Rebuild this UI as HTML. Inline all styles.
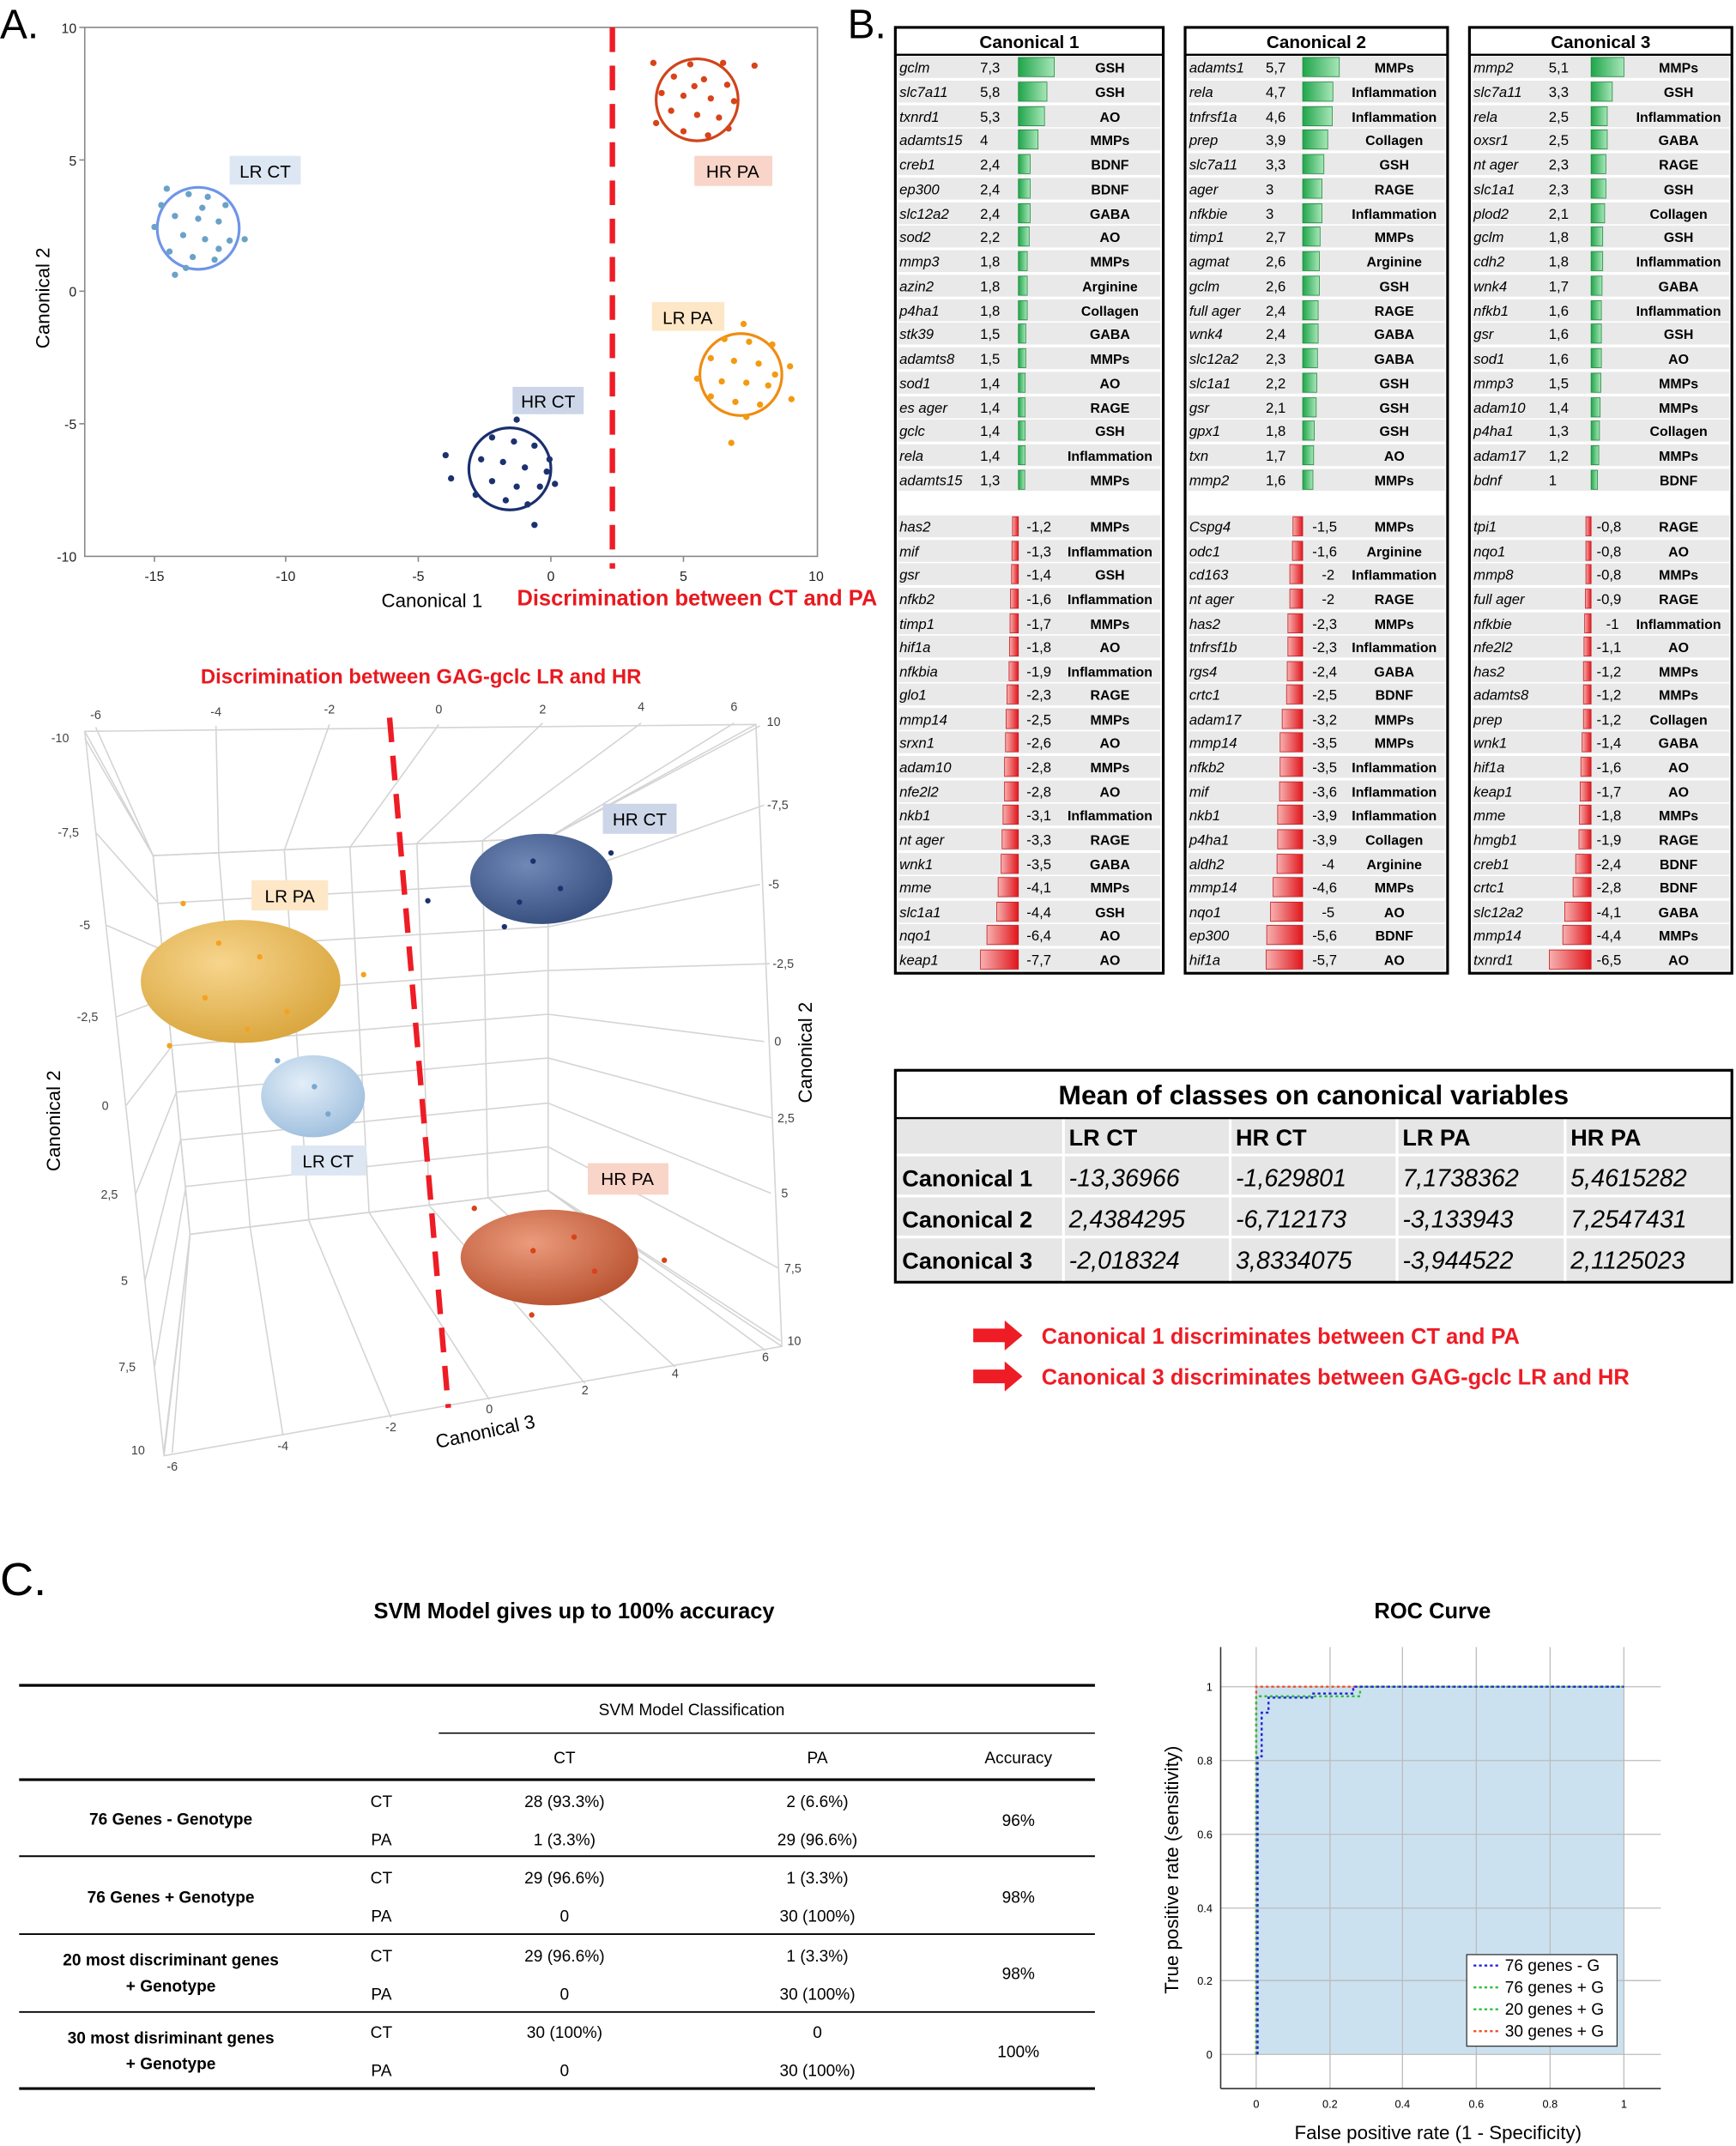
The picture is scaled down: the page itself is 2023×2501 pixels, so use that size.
<!DOCTYPE html>
<html><head><meta charset="utf-8">
<style>
html,body{margin:0;padding:0;background:#fff;}
svg{display:block;font-family:"Liberation Sans",sans-serif;}
.n{font-style:italic;font-size:10.5px;}
.v{font-size:10.5px;}
.c{font-size:10px;font-weight:bold;text-anchor:middle;}
.rb{fill:#e9e9e9;}
.g{fill:url(#gg);stroke:#1f8a3e;stroke-width:0.5;}
.r{fill:url(#rg);stroke:#c41d22;stroke-width:0.5;}
.tk{font-size:10px;fill:#222;}
.t3{font-size:9px;fill:#444;}
.grid{stroke:#d4d4d4;stroke-width:1;fill:none;}
</style></head><body>
<svg width="2023" height="2501" viewBox="0 0 1270 1570" xmlns="http://www.w3.org/2000/svg">
<defs>
<linearGradient id="gg" x1="0" x2="1"><stop offset="0" stop-color="#1fa54a"/><stop offset="1" stop-color="#a8e6b8"/></linearGradient>
<linearGradient id="rg" x1="1" x2="0"><stop offset="0" stop-color="#e0161c"/><stop offset="1" stop-color="#f7b0b0"/></linearGradient>
<radialGradient id="og" cx="0.4" cy="0.35" r="0.7"><stop offset="0" stop-color="#f7d58d"/><stop offset="1" stop-color="#d9a53c"/></radialGradient>
<radialGradient id="bg" cx="0.4" cy="0.35" r="0.7"><stop offset="0" stop-color="#6f88b6"/><stop offset="1" stop-color="#344d7d"/></radialGradient>
<radialGradient id="lb" cx="0.4" cy="0.35" r="0.7"><stop offset="0" stop-color="#e3eef8"/><stop offset="1" stop-color="#9dbedd"/></radialGradient>
<radialGradient id="rd" cx="0.4" cy="0.35" r="0.7"><stop offset="0" stop-color="#eb9b7c"/><stop offset="1" stop-color="#b8512f"/></radialGradient>
</defs>

<!-- PANEL A -->
<text x="0" y="28" font-size="30">A.</text>
<rect x="62" y="20" width="536" height="387" fill="none" stroke="#888" stroke-width="1"/>
<g class="tk" text-anchor="middle">
<text x="113" y="425">-15</text><text x="209" y="425">-10</text><text x="306" y="425">-5</text><text x="403" y="425">0</text><text x="500" y="425">5</text><text x="597" y="425">10</text>
</g>
<g class="tk" text-anchor="end">
<text x="56" y="24">10</text><text x="56" y="121">5</text><text x="56" y="217">0</text><text x="56" y="314">-5</text><text x="56" y="411">-10</text>
</g>
<g stroke="#888"><line x1="113" y1="407" x2="113" y2="411"/><line x1="209" y1="407" x2="209" y2="411"/><line x1="306" y1="407" x2="306" y2="411"/><line x1="403" y1="407" x2="403" y2="411"/><line x1="500" y1="407" x2="500" y2="411"/><line x1="58" y1="20" x2="62" y2="20"/><line x1="58" y1="117" x2="62" y2="117"/><line x1="58" y1="213" x2="62" y2="213"/><line x1="58" y1="310" x2="62" y2="310"/></g>
<text x="36" y="218" font-size="14" text-anchor="middle" transform="rotate(-90 36 218)">Canonical 2</text>
<text x="316" y="444" font-size="14" text-anchor="middle">Canonical 1</text>
<text x="510" y="443" font-size="16" font-weight="bold" fill="#e8191f" text-anchor="middle">Discrimination between CT and PA</text>
<line x1="448" y1="20" x2="448" y2="416" stroke="#ee1c25" stroke-width="4" stroke-dasharray="18,10"/>
<circle cx="145" cy="167" r="30" fill="none" stroke="#6f95e8" stroke-width="2"/>
<g fill="#6aa2c8"><circle cx="122" cy="138" r="2.3"/><circle cx="138" cy="142" r="2.3"/><circle cx="152" cy="144" r="2.3"/><circle cx="165" cy="150" r="2.3"/><circle cx="128" cy="158" r="2.3"/><circle cx="145" cy="160" r="2.3"/><circle cx="160" cy="162" r="2.3"/><circle cx="113" cy="166" r="2.3"/><circle cx="134" cy="172" r="2.3"/><circle cx="150" cy="175" r="2.3"/><circle cx="168" cy="176" r="2.3"/><circle cx="179" cy="175" r="2.3"/><circle cx="124" cy="184" r="2.3"/><circle cx="141" cy="188" r="2.3"/><circle cx="157" cy="190" r="2.3"/><circle cx="128" cy="201" r="2.3"/><circle cx="136" cy="196" r="2.3"/><circle cx="118" cy="150" r="2.3"/><circle cx="148" cy="152" r="2.3"/><circle cx="160" cy="182" r="2.3"/></g>
<circle cx="373" cy="343" r="30" fill="none" stroke="#1a2f6e" stroke-width="2"/>
<g fill="#1c3170"><circle cx="378" cy="307" r="2.3"/><circle cx="360" cy="320" r="2.3"/><circle cx="376" cy="323" r="2.3"/><circle cx="391" cy="326" r="2.3"/><circle cx="326" cy="333" r="2.3"/><circle cx="352" cy="336" r="2.3"/><circle cx="368" cy="338" r="2.3"/><circle cx="384" cy="342" r="2.3"/><circle cx="400" cy="345" r="2.3"/><circle cx="330" cy="350" r="2.3"/><circle cx="360" cy="352" r="2.3"/><circle cx="378" cy="356" r="2.3"/><circle cx="395" cy="356" r="2.3"/><circle cx="406" cy="354" r="2.3"/><circle cx="348" cy="362" r="2.3"/><circle cx="370" cy="366" r="2.3"/><circle cx="386" cy="369" r="2.3"/><circle cx="391" cy="384" r="2.3"/><circle cx="402" cy="336" r="2.3"/></g>
<circle cx="510" cy="73" r="30" fill="none" stroke="#d0441a" stroke-width="2"/>
<g fill="#d8431a"><circle cx="478" cy="46" r="2.3"/><circle cx="505" cy="47" r="2.3"/><circle cx="529" cy="46" r="2.3"/><circle cx="552" cy="48" r="2.3"/><circle cx="493" cy="56" r="2.3"/><circle cx="515" cy="58" r="2.3"/><circle cx="532" cy="62" r="2.3"/><circle cx="484" cy="68" r="2.3"/><circle cx="500" cy="70" r="2.3"/><circle cx="520" cy="72" r="2.3"/><circle cx="537" cy="74" r="2.3"/><circle cx="491" cy="81" r="2.3"/><circle cx="510" cy="84" r="2.3"/><circle cx="526" cy="86" r="2.3"/><circle cx="480" cy="90" r="2.3"/><circle cx="500" cy="96" r="2.3"/><circle cx="518" cy="99" r="2.3"/><circle cx="533" cy="94" r="2.3"/><circle cx="508" cy="63" r="2.3"/></g>
<circle cx="542" cy="274" r="30" fill="none" stroke="#f08c10" stroke-width="2"/>
<g fill="#f39a12"><circle cx="544" cy="237" r="2.3"/><circle cx="530" cy="248" r="2.3"/><circle cx="548" cy="250" r="2.3"/><circle cx="565" cy="252" r="2.3"/><circle cx="520" cy="262" r="2.3"/><circle cx="537" cy="264" r="2.3"/><circle cx="555" cy="266" r="2.3"/><circle cx="578" cy="268" r="2.3"/><circle cx="510" cy="277" r="2.3"/><circle cx="528" cy="279" r="2.3"/><circle cx="546" cy="280" r="2.3"/><circle cx="562" cy="282" r="2.3"/><circle cx="579" cy="292" r="2.3"/><circle cx="520" cy="290" r="2.3"/><circle cx="538" cy="294" r="2.3"/><circle cx="556" cy="296" r="2.3"/><circle cx="546" cy="305" r="2.3"/><circle cx="535" cy="324" r="2.3"/><circle cx="567" cy="274" r="2.3"/></g>
<rect x="168" y="114" width="52" height="21" fill="#dde7f3"/><text x="194" y="130" font-size="13" text-anchor="middle">LR CT</text>
<rect x="375" y="283" width="52" height="20" fill="#ccd6e8"/><text x="401" y="298" font-size="13" text-anchor="middle">HR CT</text>
<rect x="508" y="114" width="57" height="22" fill="#f9d4c8"/><text x="536" y="130" font-size="13" text-anchor="middle">HR PA</text>
<rect x="477" y="221" width="53" height="21" fill="#fde7c6"/><text x="503" y="237" font-size="13" text-anchor="middle">LR PA</text>

<!-- 3D plot -->
<text x="308" y="500" font-size="15" font-weight="bold" fill="#e8191f" text-anchor="middle">Discrimination between GAG-gclc LR and HR</text>
<g class="grid">
<path d="M62,535 L553,530 L572,985 L120,1065 Z"/>
<path d="M112,626 L401,613 L401,871 L139,903 Z"/>
<line x1="62" y1="535" x2="112" y2="626"/><line x1="553" y1="530" x2="401" y2="613"/><line x1="572" y1="985" x2="401" y2="871"/><line x1="120" y1="1065" x2="139" y2="903"/>
<!-- vertical grid: top tick -> back top -> back bottom -> bottom tick -->
<polyline points="70,532 112,626 139,903 126,1063"/>
<polyline points="158,531 160,624 183,898 207,1050"/>
<polyline points="241,530 208,622 226,893 286,1037"/>
<polyline points="321,530 256,620 270,887 358,1024"/>
<polyline points="397,529 305,617 314,882 428,1012"/>
<polyline points="469,529 353,615 357,876 494,1000"/>
<polyline points="537,529 401,613 401,871 560,988"/>
<!-- horizontal grid: left tick -> back left -> back right -> right tick -->
<polyline points="62,540 112,626 401,613 556,531"/>
<polyline points="70,609 116,661 401,645 559,589"/>
<polyline points="78,677 119,695 401,678 556,647"/>
<polyline points="85,744 122,730 401,710 563,705"/>
<polyline points="92,809 126,765 401,742 559,762"/>
<polyline points="99,874 129,799 401,774 565,818"/>
<polyline points="106,937 132,834 401,807 564,873"/>
<polyline points="113,1000 136,868 401,839 570,928"/>
<polyline points="120,1061 139,903 401,871 571,981"/>
</g>
<g class="t3" text-anchor="middle">
<text x="70" y="526">-6</text><text x="158" y="524">-4</text><text x="241" y="522">-2</text><text x="321" y="522">0</text><text x="397" y="522">2</text><text x="469" y="520">4</text><text x="537" y="520">6</text>
<text x="44" y="543">-10</text><text x="50" y="612">-7,5</text><text x="62" y="680">-5</text><text x="64" y="747">-2,5</text><text x="77" y="812">0</text><text x="80" y="877">2,5</text><text x="91" y="940">5</text><text x="93" y="1003">7,5</text><text x="101" y="1064">10</text>
<text x="566" y="531">10</text><text x="569" y="592">-7,5</text><text x="566" y="650">-5</text><text x="573" y="708">-2,5</text><text x="569" y="765">0</text><text x="575" y="821">2,5</text><text x="574" y="876">5</text><text x="580" y="931">7,5</text><text x="581" y="984">10</text>
<text x="126" y="1076">-6</text><text x="207" y="1061">-4</text><text x="286" y="1047">-2</text><text x="358" y="1034">0</text><text x="428" y="1020">2</text><text x="494" y="1008">4</text><text x="560" y="996">6</text>
</g>
<text x="44" y="820" font-size="14" text-anchor="middle" transform="rotate(-90 44 820)">Canonical 2</text>
<text x="594" y="770" font-size="14" text-anchor="middle" transform="rotate(-90 594 770)">Canonical 2</text>
<text x="356" y="1052" font-size="14" text-anchor="middle" transform="rotate(-12 356 1052)">Canonical 3</text>
<line x1="285" y1="525" x2="328" y2="1030" stroke="#ee1c25" stroke-width="4" stroke-dasharray="18,10"/>
<ellipse cx="176" cy="718" rx="73" ry="45" fill="url(#og)"/>
<ellipse cx="396" cy="643" rx="52" ry="33" fill="url(#bg)"/>
<ellipse cx="229" cy="802" rx="38" ry="30" fill="url(#lb)"/>
<ellipse cx="402" cy="920" rx="65" ry="35" fill="url(#rd)"/>
<g fill="#f3a320"><circle cx="134" cy="661" r="2"/><circle cx="266" cy="713" r="2"/><circle cx="124" cy="765" r="2"/><circle cx="160" cy="690" r="2"/><circle cx="190" cy="700" r="2"/><circle cx="150" cy="730" r="2"/><circle cx="210" cy="740" r="2"/><circle cx="181" cy="753" r="2"/></g>
<g fill="#1c3170"><circle cx="313" cy="659" r="2"/><circle cx="447" cy="624" r="2"/><circle cx="369" cy="678" r="2"/><circle cx="390" cy="630" r="2"/><circle cx="410" cy="650" r="2"/><circle cx="380" cy="660" r="2"/></g>
<g fill="#d8431a"><circle cx="347" cy="884" r="2"/><circle cx="486" cy="922" r="2"/><circle cx="389" cy="962" r="2"/><circle cx="390" cy="915" r="2"/><circle cx="420" cy="905" r="2"/><circle cx="435" cy="930" r="2"/></g>
<g fill="#7aa6d0"><circle cx="203" cy="776" r="2"/><circle cx="230" cy="795" r="2"/><circle cx="240" cy="815" r="2"/></g>
<rect x="184" y="644" width="56" height="22" fill="#fde7c6"/><text x="212" y="660" font-size="13" text-anchor="middle">LR PA</text>
<rect x="441" y="588" width="54" height="22" fill="#ccd6e8"/><text x="468" y="604" font-size="13" text-anchor="middle">HR CT</text>
<rect x="213" y="838" width="55" height="22" fill="#dde7f3"/><text x="240" y="854" font-size="13" text-anchor="middle">LR CT</text>
<rect x="430" y="851" width="59" height="23" fill="#f9d4c8"/><text x="459" y="867" font-size="13" text-anchor="middle">HR PA</text>

<!-- PANEL B -->
<text x="620" y="28" font-size="30">B.</text>
<!-- Table 1 -->
<g transform="translate(655,0)">
<rect x="0" y="20" width="196" height="692" fill="#fff" stroke="#000" stroke-width="2"/>
<line x1="0" y1="40" x2="196" y2="40" stroke="#000" stroke-width="1.5"/>
<text x="98" y="35" font-size="13" font-weight="bold" text-anchor="middle">Canonical 1</text>
<g transform="translate(0,49)"><rect class="rb" x="2" y="-8" width="192" height="16"/><text class="n" x="3" y="4">gclm</text><text class="v" x="62" y="4">7,3</text><rect class="g" x="90" y="-7" width="26.3" height="14"/><text class="c" x="157" y="4">GSH</text></g>
<g transform="translate(0,67)"><rect class="rb" x="2" y="-8" width="192" height="16"/><text class="n" x="3" y="4">slc7a11</text><text class="v" x="62" y="4">5,8</text><rect class="g" x="90" y="-7" width="20.9" height="14"/><text class="c" x="157" y="4">GSH</text></g>
<g transform="translate(0,85)"><rect class="rb" x="2" y="-8" width="192" height="16"/><text class="n" x="3" y="4">txnrd1</text><text class="v" x="62" y="4">5,3</text><rect class="g" x="90" y="-7" width="19.1" height="14"/><text class="c" x="157" y="4">AO</text></g>
<g transform="translate(0,102)"><rect class="rb" x="2" y="-8" width="192" height="16"/><text class="n" x="3" y="4">adamts15</text><text class="v" x="62" y="4">4</text><rect class="g" x="90" y="-7" width="14.4" height="14"/><text class="c" x="157" y="4">MMPs</text></g>
<g transform="translate(0,120)"><rect class="rb" x="2" y="-8" width="192" height="16"/><text class="n" x="3" y="4">creb1</text><text class="v" x="62" y="4">2,4</text><rect class="g" x="90" y="-7" width="8.6" height="14"/><text class="c" x="157" y="4">BDNF</text></g>
<g transform="translate(0,138)"><rect class="rb" x="2" y="-8" width="192" height="16"/><text class="n" x="3" y="4">ep300</text><text class="v" x="62" y="4">2,4</text><rect class="g" x="90" y="-7" width="8.6" height="14"/><text class="c" x="157" y="4">BDNF</text></g>
<g transform="translate(0,156)"><rect class="rb" x="2" y="-8" width="192" height="16"/><text class="n" x="3" y="4">slc12a2</text><text class="v" x="62" y="4">2,4</text><rect class="g" x="90" y="-7" width="8.6" height="14"/><text class="c" x="157" y="4">GABA</text></g>
<g transform="translate(0,173)"><rect class="rb" x="2" y="-8" width="192" height="16"/><text class="n" x="3" y="4">sod2</text><text class="v" x="62" y="4">2,2</text><rect class="g" x="90" y="-7" width="7.9" height="14"/><text class="c" x="157" y="4">AO</text></g>
<g transform="translate(0,191)"><rect class="rb" x="2" y="-8" width="192" height="16"/><text class="n" x="3" y="4">mmp3</text><text class="v" x="62" y="4">1,8</text><rect class="g" x="90" y="-7" width="6.5" height="14"/><text class="c" x="157" y="4">MMPs</text></g>
<g transform="translate(0,209)"><rect class="rb" x="2" y="-8" width="192" height="16"/><text class="n" x="3" y="4">azin2</text><text class="v" x="62" y="4">1,8</text><rect class="g" x="90" y="-7" width="6.5" height="14"/><text class="c" x="157" y="4">Arginine</text></g>
<g transform="translate(0,227)"><rect class="rb" x="2" y="-8" width="192" height="16"/><text class="n" x="3" y="4">p4ha1</text><text class="v" x="62" y="4">1,8</text><rect class="g" x="90" y="-7" width="6.5" height="14"/><text class="c" x="157" y="4">Collagen</text></g>
<g transform="translate(0,244)"><rect class="rb" x="2" y="-8" width="192" height="16"/><text class="n" x="3" y="4">stk39</text><text class="v" x="62" y="4">1,5</text><rect class="g" x="90" y="-7" width="5.4" height="14"/><text class="c" x="157" y="4">GABA</text></g>
<g transform="translate(0,262)"><rect class="rb" x="2" y="-8" width="192" height="16"/><text class="n" x="3" y="4">adamts8</text><text class="v" x="62" y="4">1,5</text><rect class="g" x="90" y="-7" width="5.4" height="14"/><text class="c" x="157" y="4">MMPs</text></g>
<g transform="translate(0,280)"><rect class="rb" x="2" y="-8" width="192" height="16"/><text class="n" x="3" y="4">sod1</text><text class="v" x="62" y="4">1,4</text><rect class="g" x="90" y="-7" width="5" height="14"/><text class="c" x="157" y="4">AO</text></g>
<g transform="translate(0,298)"><rect class="rb" x="2" y="-8" width="192" height="16"/><text class="n" x="3" y="4">es ager</text><text class="v" x="62" y="4">1,4</text><rect class="g" x="90" y="-7" width="5" height="14"/><text class="c" x="157" y="4">RAGE</text></g>
<g transform="translate(0,315)"><rect class="rb" x="2" y="-8" width="192" height="16"/><text class="n" x="3" y="4">gclc</text><text class="v" x="62" y="4">1,4</text><rect class="g" x="90" y="-7" width="5" height="14"/><text class="c" x="157" y="4">GSH</text></g>
<g transform="translate(0,333)"><rect class="rb" x="2" y="-8" width="192" height="16"/><text class="n" x="3" y="4">rela</text><text class="v" x="62" y="4">1,4</text><rect class="g" x="90" y="-7" width="5" height="14"/><text class="c" x="157" y="4">Inflammation</text></g>
<g transform="translate(0,351)"><rect class="rb" x="2" y="-8" width="192" height="16"/><text class="n" x="3" y="4">adamts15</text><text class="v" x="62" y="4">1,3</text><rect class="g" x="90" y="-7" width="4.7" height="14"/><text class="c" x="157" y="4">MMPs</text></g>
<g transform="translate(0,385)"><rect class="rb" x="2" y="-8" width="192" height="16"/><text class="n" x="3" y="4">has2</text><rect class="r" x="85.7" y="-7" width="4.3" height="14"/><text class="v" x="96" y="4">-1,2</text><text class="c" x="157" y="4">MMPs</text></g>
<g transform="translate(0,403)"><rect class="rb" x="2" y="-8" width="192" height="16"/><text class="n" x="3" y="4">mif</text><rect class="r" x="85.3" y="-7" width="4.7" height="14"/><text class="v" x="96" y="4">-1,3</text><text class="c" x="157" y="4">Inflammation</text></g>
<g transform="translate(0,420)"><rect class="rb" x="2" y="-8" width="192" height="16"/><text class="n" x="3" y="4">gsr</text><rect class="r" x="85" y="-7" width="5" height="14"/><text class="v" x="96" y="4">-1,4</text><text class="c" x="157" y="4">GSH</text></g>
<g transform="translate(0,438)"><rect class="rb" x="2" y="-8" width="192" height="16"/><text class="n" x="3" y="4">nfkb2</text><rect class="r" x="84.2" y="-7" width="5.8" height="14"/><text class="v" x="96" y="4">-1,6</text><text class="c" x="157" y="4">Inflammation</text></g>
<g transform="translate(0,456)"><rect class="rb" x="2" y="-8" width="192" height="16"/><text class="n" x="3" y="4">timp1</text><rect class="r" x="83.9" y="-7" width="6.1" height="14"/><text class="v" x="96" y="4">-1,7</text><text class="c" x="157" y="4">MMPs</text></g>
<g transform="translate(0,473)"><rect class="rb" x="2" y="-8" width="192" height="16"/><text class="n" x="3" y="4">hif1a</text><rect class="r" x="83.5" y="-7" width="6.5" height="14"/><text class="v" x="96" y="4">-1,8</text><text class="c" x="157" y="4">AO</text></g>
<g transform="translate(0,491)"><rect class="rb" x="2" y="-8" width="192" height="16"/><text class="n" x="3" y="4">nfkbia</text><rect class="r" x="83.2" y="-7" width="6.8" height="14"/><text class="v" x="96" y="4">-1,9</text><text class="c" x="157" y="4">Inflammation</text></g>
<g transform="translate(0,508)"><rect class="rb" x="2" y="-8" width="192" height="16"/><text class="n" x="3" y="4">glo1</text><rect class="r" x="81.7" y="-7" width="8.3" height="14"/><text class="v" x="96" y="4">-2,3</text><text class="c" x="157" y="4">RAGE</text></g>
<g transform="translate(0,526)"><rect class="rb" x="2" y="-8" width="192" height="16"/><text class="n" x="3" y="4">mmp14</text><rect class="r" x="81" y="-7" width="9" height="14"/><text class="v" x="96" y="4">-2,5</text><text class="c" x="157" y="4">MMPs</text></g>
<g transform="translate(0,543)"><rect class="rb" x="2" y="-8" width="192" height="16"/><text class="n" x="3" y="4">srxn1</text><rect class="r" x="80.6" y="-7" width="9.4" height="14"/><text class="v" x="96" y="4">-2,6</text><text class="c" x="157" y="4">AO</text></g>
<g transform="translate(0,561)"><rect class="rb" x="2" y="-8" width="192" height="16"/><text class="n" x="3" y="4">adam10</text><rect class="r" x="79.9" y="-7" width="10.1" height="14"/><text class="v" x="96" y="4">-2,8</text><text class="c" x="157" y="4">MMPs</text></g>
<g transform="translate(0,579)"><rect class="rb" x="2" y="-8" width="192" height="16"/><text class="n" x="3" y="4">nfe2l2</text><rect class="r" x="79.9" y="-7" width="10.1" height="14"/><text class="v" x="96" y="4">-2,8</text><text class="c" x="157" y="4">AO</text></g>
<g transform="translate(0,596)"><rect class="rb" x="2" y="-8" width="192" height="16"/><text class="n" x="3" y="4">nkb1</text><rect class="r" x="78.8" y="-7" width="11.2" height="14"/><text class="v" x="96" y="4">-3,1</text><text class="c" x="157" y="4">Inflammation</text></g>
<g transform="translate(0,614)"><rect class="rb" x="2" y="-8" width="192" height="16"/><text class="n" x="3" y="4">nt ager</text><rect class="r" x="78.1" y="-7" width="11.9" height="14"/><text class="v" x="96" y="4">-3,3</text><text class="c" x="157" y="4">RAGE</text></g>
<g transform="translate(0,632)"><rect class="rb" x="2" y="-8" width="192" height="16"/><text class="n" x="3" y="4">wnk1</text><rect class="r" x="77.4" y="-7" width="12.6" height="14"/><text class="v" x="96" y="4">-3,5</text><text class="c" x="157" y="4">GABA</text></g>
<g transform="translate(0,649)"><rect class="rb" x="2" y="-8" width="192" height="16"/><text class="n" x="3" y="4">mme</text><rect class="r" x="75.2" y="-7" width="14.8" height="14"/><text class="v" x="96" y="4">-4,1</text><text class="c" x="157" y="4">MMPs</text></g>
<g transform="translate(0,667)"><rect class="rb" x="2" y="-8" width="192" height="16"/><text class="n" x="3" y="4">slc1a1</text><rect class="r" x="74.2" y="-7" width="15.8" height="14"/><text class="v" x="96" y="4">-4,4</text><text class="c" x="157" y="4">GSH</text></g>
<g transform="translate(0,684)"><rect class="rb" x="2" y="-8" width="192" height="16"/><text class="n" x="3" y="4">nqo1</text><rect class="r" x="67" y="-7" width="23" height="14"/><text class="v" x="96" y="4">-6,4</text><text class="c" x="157" y="4">AO</text></g>
<g transform="translate(0,702)"><rect class="rb" x="2" y="-8" width="192" height="16"/><text class="n" x="3" y="4">keap1</text><rect class="r" x="62.3" y="-7" width="27.7" height="14"/><text class="v" x="96" y="4">-7,7</text><text class="c" x="157" y="4">AO</text></g>
</g>

<!-- Table 2 -->
<g transform="translate(867,0)">
<rect x="0" y="20" width="192" height="692" fill="#fff" stroke="#000" stroke-width="2"/>
<line x1="0" y1="40" x2="192" y2="40" stroke="#000" stroke-width="1.5"/>
<text x="96" y="35" font-size="13" font-weight="bold" text-anchor="middle">Canonical 2</text>
<g transform="translate(0,49)"><rect class="rb" x="2" y="-8" width="188" height="16"/><text class="n" x="3" y="4">adamts1</text><text class="v" x="59" y="4">5,7</text><rect class="g" x="86" y="-7" width="26.8" height="14"/><text class="c" x="153" y="4">MMPs</text></g>
<g transform="translate(0,67)"><rect class="rb" x="2" y="-8" width="188" height="16"/><text class="n" x="3" y="4">rela</text><text class="v" x="59" y="4">4,7</text><rect class="g" x="86" y="-7" width="22.1" height="14"/><text class="c" x="153" y="4">Inflammation</text></g>
<g transform="translate(0,85)"><rect class="rb" x="2" y="-8" width="188" height="16"/><text class="n" x="3" y="4">tnfrsf1a</text><text class="v" x="59" y="4">4,6</text><rect class="g" x="86" y="-7" width="21.6" height="14"/><text class="c" x="153" y="4">Inflammation</text></g>
<g transform="translate(0,102)"><rect class="rb" x="2" y="-8" width="188" height="16"/><text class="n" x="3" y="4">prep</text><text class="v" x="59" y="4">3,9</text><rect class="g" x="86" y="-7" width="18.3" height="14"/><text class="c" x="153" y="4">Collagen</text></g>
<g transform="translate(0,120)"><rect class="rb" x="2" y="-8" width="188" height="16"/><text class="n" x="3" y="4">slc7a11</text><text class="v" x="59" y="4">3,3</text><rect class="g" x="86" y="-7" width="15.5" height="14"/><text class="c" x="153" y="4">GSH</text></g>
<g transform="translate(0,138)"><rect class="rb" x="2" y="-8" width="188" height="16"/><text class="n" x="3" y="4">ager</text><text class="v" x="59" y="4">3</text><rect class="g" x="86" y="-7" width="14.1" height="14"/><text class="c" x="153" y="4">RAGE</text></g>
<g transform="translate(0,156)"><rect class="rb" x="2" y="-8" width="188" height="16"/><text class="n" x="3" y="4">nfkbie</text><text class="v" x="59" y="4">3</text><rect class="g" x="86" y="-7" width="14.1" height="14"/><text class="c" x="153" y="4">Inflammation</text></g>
<g transform="translate(0,173)"><rect class="rb" x="2" y="-8" width="188" height="16"/><text class="n" x="3" y="4">timp1</text><text class="v" x="59" y="4">2,7</text><rect class="g" x="86" y="-7" width="12.7" height="14"/><text class="c" x="153" y="4">MMPs</text></g>
<g transform="translate(0,191)"><rect class="rb" x="2" y="-8" width="188" height="16"/><text class="n" x="3" y="4">agmat</text><text class="v" x="59" y="4">2,6</text><rect class="g" x="86" y="-7" width="12.2" height="14"/><text class="c" x="153" y="4">Arginine</text></g>
<g transform="translate(0,209)"><rect class="rb" x="2" y="-8" width="188" height="16"/><text class="n" x="3" y="4">gclm</text><text class="v" x="59" y="4">2,6</text><rect class="g" x="86" y="-7" width="12.2" height="14"/><text class="c" x="153" y="4">GSH</text></g>
<g transform="translate(0,227)"><rect class="rb" x="2" y="-8" width="188" height="16"/><text class="n" x="3" y="4">full ager</text><text class="v" x="59" y="4">2,4</text><rect class="g" x="86" y="-7" width="11.3" height="14"/><text class="c" x="153" y="4">RAGE</text></g>
<g transform="translate(0,244)"><rect class="rb" x="2" y="-8" width="188" height="16"/><text class="n" x="3" y="4">wnk4</text><text class="v" x="59" y="4">2,4</text><rect class="g" x="86" y="-7" width="11.3" height="14"/><text class="c" x="153" y="4">GABA</text></g>
<g transform="translate(0,262)"><rect class="rb" x="2" y="-8" width="188" height="16"/><text class="n" x="3" y="4">slc12a2</text><text class="v" x="59" y="4">2,3</text><rect class="g" x="86" y="-7" width="10.8" height="14"/><text class="c" x="153" y="4">GABA</text></g>
<g transform="translate(0,280)"><rect class="rb" x="2" y="-8" width="188" height="16"/><text class="n" x="3" y="4">slc1a1</text><text class="v" x="59" y="4">2,2</text><rect class="g" x="86" y="-7" width="10.3" height="14"/><text class="c" x="153" y="4">GSH</text></g>
<g transform="translate(0,298)"><rect class="rb" x="2" y="-8" width="188" height="16"/><text class="n" x="3" y="4">gsr</text><text class="v" x="59" y="4">2,1</text><rect class="g" x="86" y="-7" width="9.9" height="14"/><text class="c" x="153" y="4">GSH</text></g>
<g transform="translate(0,315)"><rect class="rb" x="2" y="-8" width="188" height="16"/><text class="n" x="3" y="4">gpx1</text><text class="v" x="59" y="4">1,8</text><rect class="g" x="86" y="-7" width="8.5" height="14"/><text class="c" x="153" y="4">GSH</text></g>
<g transform="translate(0,333)"><rect class="rb" x="2" y="-8" width="188" height="16"/><text class="n" x="3" y="4">txn</text><text class="v" x="59" y="4">1,7</text><rect class="g" x="86" y="-7" width="8" height="14"/><text class="c" x="153" y="4">AO</text></g>
<g transform="translate(0,351)"><rect class="rb" x="2" y="-8" width="188" height="16"/><text class="n" x="3" y="4">mmp2</text><text class="v" x="59" y="4">1,6</text><rect class="g" x="86" y="-7" width="7.5" height="14"/><text class="c" x="153" y="4">MMPs</text></g>
<g transform="translate(0,385)"><rect class="rb" x="2" y="-8" width="188" height="16"/><text class="n" x="3" y="4">Cspg4</text><rect class="r" x="78.9" y="-7" width="7.1" height="14"/><text class="v" x="93" y="4">-1,5</text><text class="c" x="153" y="4">MMPs</text></g>
<g transform="translate(0,403)"><rect class="rb" x="2" y="-8" width="188" height="16"/><text class="n" x="3" y="4">odc1</text><rect class="r" x="78.5" y="-7" width="7.5" height="14"/><text class="v" x="93" y="4">-1,6</text><text class="c" x="153" y="4">Arginine</text></g>
<g transform="translate(0,420)"><rect class="rb" x="2" y="-8" width="188" height="16"/><text class="n" x="3" y="4">cd163</text><rect class="r" x="76.6" y="-7" width="9.4" height="14"/><text class="v" x="100" y="4">-2</text><text class="c" x="153" y="4">Inflammation</text></g>
<g transform="translate(0,438)"><rect class="rb" x="2" y="-8" width="188" height="16"/><text class="n" x="3" y="4">nt ager</text><rect class="r" x="76.6" y="-7" width="9.4" height="14"/><text class="v" x="100" y="4">-2</text><text class="c" x="153" y="4">RAGE</text></g>
<g transform="translate(0,456)"><rect class="rb" x="2" y="-8" width="188" height="16"/><text class="n" x="3" y="4">has2</text><rect class="r" x="75.2" y="-7" width="10.8" height="14"/><text class="v" x="93" y="4">-2,3</text><text class="c" x="153" y="4">MMPs</text></g>
<g transform="translate(0,473)"><rect class="rb" x="2" y="-8" width="188" height="16"/><text class="n" x="3" y="4">tnfrsf1b</text><rect class="r" x="75.2" y="-7" width="10.8" height="14"/><text class="v" x="93" y="4">-2,3</text><text class="c" x="153" y="4">Inflammation</text></g>
<g transform="translate(0,491)"><rect class="rb" x="2" y="-8" width="188" height="16"/><text class="n" x="3" y="4">rgs4</text><rect class="r" x="74.7" y="-7" width="11.3" height="14"/><text class="v" x="93" y="4">-2,4</text><text class="c" x="153" y="4">GABA</text></g>
<g transform="translate(0,508)"><rect class="rb" x="2" y="-8" width="188" height="16"/><text class="n" x="3" y="4">crtc1</text><rect class="r" x="74.2" y="-7" width="11.8" height="14"/><text class="v" x="93" y="4">-2,5</text><text class="c" x="153" y="4">BDNF</text></g>
<g transform="translate(0,526)"><rect class="rb" x="2" y="-8" width="188" height="16"/><text class="n" x="3" y="4">adam17</text><rect class="r" x="71" y="-7" width="15" height="14"/><text class="v" x="93" y="4">-3,2</text><text class="c" x="153" y="4">MMPs</text></g>
<g transform="translate(0,543)"><rect class="rb" x="2" y="-8" width="188" height="16"/><text class="n" x="3" y="4">mmp14</text><rect class="r" x="69.5" y="-7" width="16.5" height="14"/><text class="v" x="93" y="4">-3,5</text><text class="c" x="153" y="4">MMPs</text></g>
<g transform="translate(0,561)"><rect class="rb" x="2" y="-8" width="188" height="16"/><text class="n" x="3" y="4">nfkb2</text><rect class="r" x="69.5" y="-7" width="16.5" height="14"/><text class="v" x="93" y="4">-3,5</text><text class="c" x="153" y="4">Inflammation</text></g>
<g transform="translate(0,579)"><rect class="rb" x="2" y="-8" width="188" height="16"/><text class="n" x="3" y="4">mif</text><rect class="r" x="69.1" y="-7" width="16.9" height="14"/><text class="v" x="93" y="4">-3,6</text><text class="c" x="153" y="4">Inflammation</text></g>
<g transform="translate(0,596)"><rect class="rb" x="2" y="-8" width="188" height="16"/><text class="n" x="3" y="4">nkb1</text><rect class="r" x="67.7" y="-7" width="18.3" height="14"/><text class="v" x="93" y="4">-3,9</text><text class="c" x="153" y="4">Inflammation</text></g>
<g transform="translate(0,614)"><rect class="rb" x="2" y="-8" width="188" height="16"/><text class="n" x="3" y="4">p4ha1</text><rect class="r" x="67.7" y="-7" width="18.3" height="14"/><text class="v" x="93" y="4">-3,9</text><text class="c" x="153" y="4">Collagen</text></g>
<g transform="translate(0,632)"><rect class="rb" x="2" y="-8" width="188" height="16"/><text class="n" x="3" y="4">aldh2</text><rect class="r" x="67.2" y="-7" width="18.8" height="14"/><text class="v" x="100" y="4">-4</text><text class="c" x="153" y="4">Arginine</text></g>
<g transform="translate(0,649)"><rect class="rb" x="2" y="-8" width="188" height="16"/><text class="n" x="3" y="4">mmp14</text><rect class="r" x="64.4" y="-7" width="21.6" height="14"/><text class="v" x="93" y="4">-4,6</text><text class="c" x="153" y="4">MMPs</text></g>
<g transform="translate(0,667)"><rect class="rb" x="2" y="-8" width="188" height="16"/><text class="n" x="3" y="4">nqo1</text><rect class="r" x="62.5" y="-7" width="23.5" height="14"/><text class="v" x="100" y="4">-5</text><text class="c" x="153" y="4">AO</text></g>
<g transform="translate(0,684)"><rect class="rb" x="2" y="-8" width="188" height="16"/><text class="n" x="3" y="4">ep300</text><rect class="r" x="59.7" y="-7" width="26.3" height="14"/><text class="v" x="93" y="4">-5,6</text><text class="c" x="153" y="4">BDNF</text></g>
<g transform="translate(0,702)"><rect class="rb" x="2" y="-8" width="188" height="16"/><text class="n" x="3" y="4">hif1a</text><rect class="r" x="59.2" y="-7" width="26.8" height="14"/><text class="v" x="93" y="4">-5,7</text><text class="c" x="153" y="4">AO</text></g>
</g>

<!-- Table 3 -->
<g transform="translate(1075,0)">
<rect x="0" y="20" width="192" height="692" fill="#fff" stroke="#000" stroke-width="2"/>
<line x1="0" y1="40" x2="192" y2="40" stroke="#000" stroke-width="1.5"/>
<text x="96" y="35" font-size="13" font-weight="bold" text-anchor="middle">Canonical 3</text>
<g transform="translate(0,49)"><rect class="rb" x="2" y="-8" width="188" height="16"/><text class="n" x="3" y="4">mmp2</text><text class="v" x="58" y="4">5,1</text><rect class="g" x="89" y="-7" width="24" height="14"/><text class="c" x="153" y="4">MMPs</text></g>
<g transform="translate(0,67)"><rect class="rb" x="2" y="-8" width="188" height="16"/><text class="n" x="3" y="4">slc7a11</text><text class="v" x="58" y="4">3,3</text><rect class="g" x="89" y="-7" width="15.5" height="14"/><text class="c" x="153" y="4">GSH</text></g>
<g transform="translate(0,85)"><rect class="rb" x="2" y="-8" width="188" height="16"/><text class="n" x="3" y="4">rela</text><text class="v" x="58" y="4">2,5</text><rect class="g" x="89" y="-7" width="11.8" height="14"/><text class="c" x="153" y="4">Inflammation</text></g>
<g transform="translate(0,102)"><rect class="rb" x="2" y="-8" width="188" height="16"/><text class="n" x="3" y="4">oxsr1</text><text class="v" x="58" y="4">2,5</text><rect class="g" x="89" y="-7" width="11.8" height="14"/><text class="c" x="153" y="4">GABA</text></g>
<g transform="translate(0,120)"><rect class="rb" x="2" y="-8" width="188" height="16"/><text class="n" x="3" y="4">nt ager</text><text class="v" x="58" y="4">2,3</text><rect class="g" x="89" y="-7" width="10.8" height="14"/><text class="c" x="153" y="4">RAGE</text></g>
<g transform="translate(0,138)"><rect class="rb" x="2" y="-8" width="188" height="16"/><text class="n" x="3" y="4">slc1a1</text><text class="v" x="58" y="4">2,3</text><rect class="g" x="89" y="-7" width="10.8" height="14"/><text class="c" x="153" y="4">GSH</text></g>
<g transform="translate(0,156)"><rect class="rb" x="2" y="-8" width="188" height="16"/><text class="n" x="3" y="4">plod2</text><text class="v" x="58" y="4">2,1</text><rect class="g" x="89" y="-7" width="9.9" height="14"/><text class="c" x="153" y="4">Collagen</text></g>
<g transform="translate(0,173)"><rect class="rb" x="2" y="-8" width="188" height="16"/><text class="n" x="3" y="4">gclm</text><text class="v" x="58" y="4">1,8</text><rect class="g" x="89" y="-7" width="8.5" height="14"/><text class="c" x="153" y="4">GSH</text></g>
<g transform="translate(0,191)"><rect class="rb" x="2" y="-8" width="188" height="16"/><text class="n" x="3" y="4">cdh2</text><text class="v" x="58" y="4">1,8</text><rect class="g" x="89" y="-7" width="8.5" height="14"/><text class="c" x="153" y="4">Inflammation</text></g>
<g transform="translate(0,209)"><rect class="rb" x="2" y="-8" width="188" height="16"/><text class="n" x="3" y="4">wnk4</text><text class="v" x="58" y="4">1,7</text><rect class="g" x="89" y="-7" width="8" height="14"/><text class="c" x="153" y="4">GABA</text></g>
<g transform="translate(0,227)"><rect class="rb" x="2" y="-8" width="188" height="16"/><text class="n" x="3" y="4">nfkb1</text><text class="v" x="58" y="4">1,6</text><rect class="g" x="89" y="-7" width="7.5" height="14"/><text class="c" x="153" y="4">Inflammation</text></g>
<g transform="translate(0,244)"><rect class="rb" x="2" y="-8" width="188" height="16"/><text class="n" x="3" y="4">gsr</text><text class="v" x="58" y="4">1,6</text><rect class="g" x="89" y="-7" width="7.5" height="14"/><text class="c" x="153" y="4">GSH</text></g>
<g transform="translate(0,262)"><rect class="rb" x="2" y="-8" width="188" height="16"/><text class="n" x="3" y="4">sod1</text><text class="v" x="58" y="4">1,6</text><rect class="g" x="89" y="-7" width="7.5" height="14"/><text class="c" x="153" y="4">AO</text></g>
<g transform="translate(0,280)"><rect class="rb" x="2" y="-8" width="188" height="16"/><text class="n" x="3" y="4">mmp3</text><text class="v" x="58" y="4">1,5</text><rect class="g" x="89" y="-7" width="7.1" height="14"/><text class="c" x="153" y="4">MMPs</text></g>
<g transform="translate(0,298)"><rect class="rb" x="2" y="-8" width="188" height="16"/><text class="n" x="3" y="4">adam10</text><text class="v" x="58" y="4">1,4</text><rect class="g" x="89" y="-7" width="6.6" height="14"/><text class="c" x="153" y="4">MMPs</text></g>
<g transform="translate(0,315)"><rect class="rb" x="2" y="-8" width="188" height="16"/><text class="n" x="3" y="4">p4ha1</text><text class="v" x="58" y="4">1,3</text><rect class="g" x="89" y="-7" width="6.1" height="14"/><text class="c" x="153" y="4">Collagen</text></g>
<g transform="translate(0,333)"><rect class="rb" x="2" y="-8" width="188" height="16"/><text class="n" x="3" y="4">adam17</text><text class="v" x="58" y="4">1,2</text><rect class="g" x="89" y="-7" width="5.6" height="14"/><text class="c" x="153" y="4">MMPs</text></g>
<g transform="translate(0,351)"><rect class="rb" x="2" y="-8" width="188" height="16"/><text class="n" x="3" y="4">bdnf</text><text class="v" x="58" y="4">1</text><rect class="g" x="89" y="-7" width="4.7" height="14"/><text class="c" x="153" y="4">BDNF</text></g>
<g transform="translate(0,385)"><rect class="rb" x="2" y="-8" width="188" height="16"/><text class="n" x="3" y="4">tpi1</text><rect class="r" x="85.2" y="-7" width="3.8" height="14"/><text class="v" x="93" y="4">-0,8</text><text class="c" x="153" y="4">RAGE</text></g>
<g transform="translate(0,403)"><rect class="rb" x="2" y="-8" width="188" height="16"/><text class="n" x="3" y="4">nqo1</text><rect class="r" x="85.2" y="-7" width="3.8" height="14"/><text class="v" x="93" y="4">-0,8</text><text class="c" x="153" y="4">AO</text></g>
<g transform="translate(0,420)"><rect class="rb" x="2" y="-8" width="188" height="16"/><text class="n" x="3" y="4">mmp8</text><rect class="r" x="85.2" y="-7" width="3.8" height="14"/><text class="v" x="93" y="4">-0,8</text><text class="c" x="153" y="4">MMPs</text></g>
<g transform="translate(0,438)"><rect class="rb" x="2" y="-8" width="188" height="16"/><text class="n" x="3" y="4">full ager</text><rect class="r" x="84.8" y="-7" width="4.2" height="14"/><text class="v" x="93" y="4">-0,9</text><text class="c" x="153" y="4">RAGE</text></g>
<g transform="translate(0,456)"><rect class="rb" x="2" y="-8" width="188" height="16"/><text class="n" x="3" y="4">nfkbie</text><rect class="r" x="84.3" y="-7" width="4.7" height="14"/><text class="v" x="100" y="4">-1</text><text class="c" x="153" y="4">Inflammation</text></g>
<g transform="translate(0,473)"><rect class="rb" x="2" y="-8" width="188" height="16"/><text class="n" x="3" y="4">nfe2l2</text><rect class="r" x="83.8" y="-7" width="5.2" height="14"/><text class="v" x="93" y="4">-1,1</text><text class="c" x="153" y="4">AO</text></g>
<g transform="translate(0,491)"><rect class="rb" x="2" y="-8" width="188" height="16"/><text class="n" x="3" y="4">has2</text><rect class="r" x="83.4" y="-7" width="5.6" height="14"/><text class="v" x="93" y="4">-1,2</text><text class="c" x="153" y="4">MMPs</text></g>
<g transform="translate(0,508)"><rect class="rb" x="2" y="-8" width="188" height="16"/><text class="n" x="3" y="4">adamts8</text><rect class="r" x="83.4" y="-7" width="5.6" height="14"/><text class="v" x="93" y="4">-1,2</text><text class="c" x="153" y="4">MMPs</text></g>
<g transform="translate(0,526)"><rect class="rb" x="2" y="-8" width="188" height="16"/><text class="n" x="3" y="4">prep</text><rect class="r" x="83.4" y="-7" width="5.6" height="14"/><text class="v" x="93" y="4">-1,2</text><text class="c" x="153" y="4">Collagen</text></g>
<g transform="translate(0,543)"><rect class="rb" x="2" y="-8" width="188" height="16"/><text class="n" x="3" y="4">wnk1</text><rect class="r" x="82.4" y="-7" width="6.6" height="14"/><text class="v" x="93" y="4">-1,4</text><text class="c" x="153" y="4">GABA</text></g>
<g transform="translate(0,561)"><rect class="rb" x="2" y="-8" width="188" height="16"/><text class="n" x="3" y="4">hif1a</text><rect class="r" x="81.5" y="-7" width="7.5" height="14"/><text class="v" x="93" y="4">-1,6</text><text class="c" x="153" y="4">AO</text></g>
<g transform="translate(0,579)"><rect class="rb" x="2" y="-8" width="188" height="16"/><text class="n" x="3" y="4">keap1</text><rect class="r" x="81" y="-7" width="8" height="14"/><text class="v" x="93" y="4">-1,7</text><text class="c" x="153" y="4">AO</text></g>
<g transform="translate(0,596)"><rect class="rb" x="2" y="-8" width="188" height="16"/><text class="n" x="3" y="4">mme</text><rect class="r" x="80.5" y="-7" width="8.5" height="14"/><text class="v" x="93" y="4">-1,8</text><text class="c" x="153" y="4">MMPs</text></g>
<g transform="translate(0,614)"><rect class="rb" x="2" y="-8" width="188" height="16"/><text class="n" x="3" y="4">hmgb1</text><rect class="r" x="80.1" y="-7" width="8.9" height="14"/><text class="v" x="93" y="4">-1,9</text><text class="c" x="153" y="4">RAGE</text></g>
<g transform="translate(0,632)"><rect class="rb" x="2" y="-8" width="188" height="16"/><text class="n" x="3" y="4">creb1</text><rect class="r" x="77.7" y="-7" width="11.3" height="14"/><text class="v" x="93" y="4">-2,4</text><text class="c" x="153" y="4">BDNF</text></g>
<g transform="translate(0,649)"><rect class="rb" x="2" y="-8" width="188" height="16"/><text class="n" x="3" y="4">crtc1</text><rect class="r" x="75.8" y="-7" width="13.2" height="14"/><text class="v" x="93" y="4">-2,8</text><text class="c" x="153" y="4">BDNF</text></g>
<g transform="translate(0,667)"><rect class="rb" x="2" y="-8" width="188" height="16"/><text class="n" x="3" y="4">slc12a2</text><rect class="r" x="69.7" y="-7" width="19.3" height="14"/><text class="v" x="93" y="4">-4,1</text><text class="c" x="153" y="4">GABA</text></g>
<g transform="translate(0,684)"><rect class="rb" x="2" y="-8" width="188" height="16"/><text class="n" x="3" y="4">mmp14</text><rect class="r" x="68.3" y="-7" width="20.7" height="14"/><text class="v" x="93" y="4">-4,4</text><text class="c" x="153" y="4">MMPs</text></g>
<g transform="translate(0,702)"><rect class="rb" x="2" y="-8" width="188" height="16"/><text class="n" x="3" y="4">txnrd1</text><rect class="r" x="58.4" y="-7" width="30.6" height="14"/><text class="v" x="93" y="4">-6,5</text><text class="c" x="153" y="4">AO</text></g>
</g>

<!-- Mean table -->
<g>
<rect x="655" y="783" width="612" height="155" fill="#fff" stroke="#000" stroke-width="2"/>
<rect x="656" y="818" width="610" height="119" fill="#e6e6e6"/>
<g stroke="#fff" stroke-width="2"><line x1="778" y1="818" x2="778" y2="937"/><line x1="900" y1="818" x2="900" y2="937"/><line x1="1022" y1="818" x2="1022" y2="937"/><line x1="1145" y1="818" x2="1145" y2="937"/><line x1="656" y1="845" x2="1266" y2="845"/><line x1="656" y1="875" x2="1266" y2="875"/><line x1="656" y1="905" x2="1266" y2="905"/></g>
<line x1="655" y1="818" x2="1267" y2="818" stroke="#000" stroke-width="1.5"/>
<text x="961" y="808" font-size="20" font-weight="bold" text-anchor="middle">Mean of classes on canonical variables</text>
<g font-size="17" font-weight="bold"><text x="782" y="838">LR CT</text><text x="904" y="838">HR CT</text><text x="1026" y="838">LR  PA</text><text x="1149" y="838">HR PA</text>
<text x="660" y="868">Canonical 1</text><text x="660" y="898">Canonical 2</text><text x="660" y="928">Canonical 3</text></g>
<g font-size="18" font-style="italic">
<text x="782" y="868">-13,36966</text><text x="904" y="868">-1,629801</text><text x="1026" y="868">7,1738362</text><text x="1149" y="868">5,4615282</text>
<text x="782" y="898">2,4384295</text><text x="904" y="898">-6,712173</text><text x="1026" y="898">-3,133943</text><text x="1149" y="898">7,2547431</text>
<text x="782" y="928">-2,018324</text><text x="904" y="928">3,8334075</text><text x="1026" y="928">-3,944522</text><text x="1149" y="928">2,1125023</text>
</g>
</g>
<g fill="#ee1c25">
<polygon points="712,972 735,972 735,966 748,977 735,988 735,982 712,982"/>
<polygon points="712,1002 735,1002 735,996 748,1007 735,1018 735,1012 712,1012"/>
<text x="762" y="983" font-size="16" font-weight="bold">Canonical 1 discriminates between CT and PA</text>
<text x="762" y="1013" font-size="16" font-weight="bold">Canonical 3 discriminates between GAG-gclc LR and HR</text>
</g>

<!-- PANEL C -->
<text x="0" y="1167" font-size="34">C.</text>
<text x="420" y="1184" font-size="16" font-weight="bold" text-anchor="middle">SVM Model gives up to 100% accuracy</text>
<line x1="14" y1="1233" x2="801" y2="1233" stroke="#000" stroke-width="2"/>
<text x="506" y="1255" font-size="12" text-anchor="middle">SVM Model Classification</text>
<line x1="321" y1="1268" x2="801" y2="1268" stroke="#000" stroke-width="1"/>
<g font-size="12" text-anchor="middle"><text x="413" y="1290">CT</text><text x="598" y="1290">PA</text><text x="745" y="1290">Accuracy</text></g>
<line x1="14" y1="1302" x2="801" y2="1302" stroke="#000" stroke-width="2"/>
<line x1="14" y1="1358" x2="801" y2="1358" stroke="#000" stroke-width="1.2"/>
<line x1="14" y1="1415" x2="801" y2="1415" stroke="#000" stroke-width="1.2"/>
<line x1="14" y1="1472" x2="801" y2="1472" stroke="#000" stroke-width="1.2"/>
<line x1="14" y1="1528" x2="801" y2="1528" stroke="#000" stroke-width="2"/>
<g font-size="12" text-anchor="middle">
<text x="125" y="1335" font-weight="bold">76 Genes - Genotype</text>
<text x="279" y="1322">CT</text><text x="279" y="1350">PA</text>
<text x="413" y="1322">28 (93.3%)</text><text x="598" y="1322">2 (6.6%)</text><text x="413" y="1350">1 (3.3%)</text><text x="598" y="1350">29 (96.6%)</text><text x="745" y="1336">96%</text>
<text x="125" y="1392" font-weight="bold">76 Genes + Genotype</text>
<text x="279" y="1378">CT</text><text x="279" y="1406">PA</text>
<text x="413" y="1378">29 (96.6%)</text><text x="598" y="1378">1 (3.3%)</text><text x="413" y="1406">0</text><text x="598" y="1406">30 (100%)</text><text x="745" y="1392">98%</text>
<text x="125" y="1438" font-weight="bold">20 most discriminant genes</text><text x="125" y="1457" font-weight="bold">+ Genotype</text>
<text x="279" y="1435">CT</text><text x="279" y="1463">PA</text>
<text x="413" y="1435">29 (96.6%)</text><text x="598" y="1435">1 (3.3%)</text><text x="413" y="1463">0</text><text x="598" y="1463">30 (100%)</text><text x="745" y="1448">98%</text>
<text x="125" y="1495" font-weight="bold">30 most disriminant genes</text><text x="125" y="1514" font-weight="bold">+ Genotype</text>
<text x="279" y="1491">CT</text><text x="279" y="1519">PA</text>
<text x="413" y="1491">30 (100%)</text><text x="598" y="1491">0</text><text x="413" y="1519">0</text><text x="598" y="1519">30 (100%)</text><text x="745" y="1505">100%</text>
</g>

<!-- ROC -->
<text x="1048" y="1184" font-size="16" font-weight="bold" text-anchor="middle">ROC Curve</text>
<rect x="919" y="1234" width="269" height="269" fill="#cce1ef"/>
<g stroke="#bbb" stroke-width="0.8">
<line x1="973" y1="1205" x2="973" y2="1528"/><line x1="1026" y1="1205" x2="1026" y2="1528"/><line x1="1080" y1="1205" x2="1080" y2="1528"/><line x1="1134" y1="1205" x2="1134" y2="1528"/><line x1="1188" y1="1205" x2="1188" y2="1528"/><line x1="919" y1="1205" x2="919" y2="1528"/>
<line x1="893" y1="1234" x2="1215" y2="1234"/><line x1="893" y1="1288" x2="1215" y2="1288"/><line x1="893" y1="1342" x2="1215" y2="1342"/><line x1="893" y1="1396" x2="1215" y2="1396"/><line x1="893" y1="1449" x2="1215" y2="1449"/><line x1="893" y1="1503" x2="1215" y2="1503"/>
</g>
<line x1="893" y1="1205" x2="893" y2="1528" stroke="#333" stroke-width="1"/>
<line x1="893" y1="1528" x2="1215" y2="1528" stroke="#333" stroke-width="1"/>
<g font-size="8" text-anchor="end"><text x="887" y="1237">1</text><text x="887" y="1291">0.8</text><text x="887" y="1345">0.6</text><text x="887" y="1399">0.4</text><text x="887" y="1452">0.2</text><text x="887" y="1506">0</text></g>
<g font-size="8" text-anchor="middle"><text x="919" y="1542">0</text><text x="973" y="1542">0.2</text><text x="1026" y="1542">0.4</text><text x="1080" y="1542">0.6</text><text x="1134" y="1542">0.8</text><text x="1188" y="1542">1</text></g>
<text x="862" y="1368" font-size="14" text-anchor="middle" transform="rotate(-90 862 1368)">True positive rate (sensitivity)</text>
<text x="1052" y="1565" font-size="14" text-anchor="middle">False positive rate (1 - Specificity)</text>
<polyline points="919,1503 919,1234 1188,1234" fill="none" stroke="#f0502a" stroke-width="1.5" stroke-dasharray="2,2"/>
<polyline points="919,1503 919,1241 995,1241 995,1234 1188,1234" fill="none" stroke="#2bbf3a" stroke-width="1.5" stroke-dasharray="2,2"/>
<polyline points="920,1503 920,1285 923,1285 923,1253 928,1253 928,1242 960,1242 960,1239 990,1239 990,1234 1188,1234" fill="none" stroke="#2222dd" stroke-width="1.5" stroke-dasharray="2,2"/>
<rect x="1073" y="1430" width="110" height="67" fill="#fff" stroke="#333" stroke-width="0.8"/>
<g font-size="12">
<line x1="1078" y1="1438" x2="1097" y2="1438" stroke="#2222dd" stroke-width="1.5" stroke-dasharray="2,2"/><text x="1101" y="1442">76 genes  - G</text>
<line x1="1078" y1="1454" x2="1097" y2="1454" stroke="#2bbf3a" stroke-width="1.5" stroke-dasharray="2,2"/><text x="1101" y="1458">76 genes + G</text>
<line x1="1078" y1="1470" x2="1097" y2="1470" stroke="#2bbf3a" stroke-width="1.5" stroke-dasharray="2,2"/><text x="1101" y="1474">20 genes + G</text>
<line x1="1078" y1="1486" x2="1097" y2="1486" stroke="#f0502a" stroke-width="1.5" stroke-dasharray="2,2"/><text x="1101" y="1490">30 genes + G</text>
</g>
</svg>
</body></html>
